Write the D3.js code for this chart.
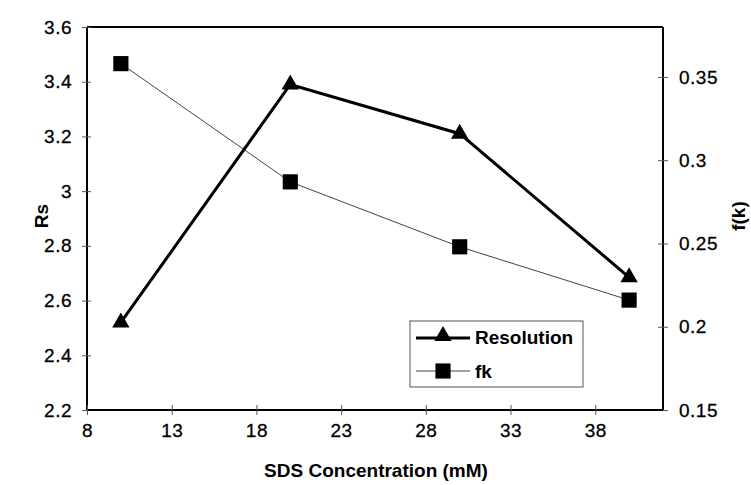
<!DOCTYPE html>
<html>
<head>
<meta charset="utf-8">
<script src="https://cdn.jsdelivr.net/npm/d3@7"></script>
<style>
  body { margin: 0; background: #fff; }
  text { font-family: "Liberation Sans", Arial, sans-serif; fill: #000; }
</style>
</head>
<body>
<svg id="chart"></svg>
<script>
// values
var sds = [10, 20, 30, 40];
var resolution = [2.52, 3.39, 3.21, 2.685];
var fk = [0.358, 0.287, 0.248, 0.216];
var xTicks = [8, 13, 18, 23, 28, 33, 38];
var rsTicks = [2.2, 2.4, 2.6, 2.8, 3, 3.2, 3.4, 3.6];
var fkTicks = [0.15, 0.2, 0.25, 0.3, 0.35];

var width = 751, height = 485;
var plotL = 87, plotR = 663, plotT = 27, plotB = 410;

var svg = d3.select("#chart")
    .attr("width", width)
    .attr("height", height);

var x = d3.scaleLinear().domain([8, 42]).range([plotL, plotR]);
var yRs = d3.scaleLinear().domain([2.2, 3.6]).range([plotB, plotT]);
var yFk = d3.scaleLinear().domain([0.15, 0.38]).range([plotB, plotT]);

// frame: top line
svg.append("line")
    .attr("x1", plotL).attr("x2", plotR)
    .attr("y1", plotT).attr("y2", plotT)
    .attr("stroke", "#000").attr("stroke-width", 2);

// left axis
var gl = svg.append("g").attr("transform", "translate(" + plotL + ",0)")
    .call(d3.axisLeft(yRs).tickValues(rsTicks).tickSize(5).tickSizeOuter(0)
        .tickFormat(function (d) { return +d.toFixed(1); }));
gl.selectAll(".tick line").clone().attr("x2", 4);

// right axis
var gr = svg.append("g").attr("transform", "translate(" + plotR + ",0)")
    .call(d3.axisRight(yFk).tickValues(fkTicks).tickSize(5).tickSizeOuter(0)
        .tickFormat(function (d) { return +d.toFixed(2); }));
gr.selectAll(".tick line").clone().attr("x2", -5);

// bottom axis
var gb = svg.append("g").attr("transform", "translate(0," + plotB + ")")
    .call(d3.axisBottom(x).tickValues(xTicks).tickSize(5).tickSizeOuter(0));
gb.selectAll(".tick line").clone().attr("y2", -5);

[gl, gr, gb].forEach(function (g) {
    g.select(".domain").attr("stroke", "#000").attr("stroke-width", 2);
    g.selectAll(".tick line").attr("stroke", "#555").attr("stroke-width", 1);
    g.selectAll(".tick text")
        .style("font-family", "'Liberation Sans', Arial, sans-serif")
        .style("font-size", "19px")
        .style("letter-spacing", "0.5px")
        .attr("stroke", "#000").attr("stroke-width", 0.3)
        .attr("fill", "#000");
});
gb.select(".domain").attr("d", "M" + plotL + ",0H" + plotR);
gl.select(".domain").attr("d", "M0," + plotT + "V" + plotB);
gr.select(".domain").attr("d", "M0," + plotT + "V" + plotB);
gl.selectAll(".tick text").attr("x", -15);
gr.selectAll(".tick text").attr("x", 16);
gb.selectAll(".tick text").attr("y", 14);

// axis titles
svg.append("text")
    .attr("transform", "translate(48,216) rotate(-90)")
    .attr("text-anchor", "middle")
    .style("font-size", "19px").style("font-weight", "bold")
    .text("Rs");
svg.append("text")
    .attr("transform", "translate(745,216) rotate(-90)")
    .attr("text-anchor", "middle")
    .style("font-size", "19px").style("font-weight", "bold")
    .text("f(k)");
svg.append("text")
    .attr("x", 376).attr("y", 477)
    .attr("text-anchor", "middle")
    .style("font-size", "19px").style("font-weight", "bold")
    .text("SDS Concentration (mM)");

var tri = d3.symbol().type(d3.symbolTriangle).size(130);
var sq = d3.symbol().type(d3.symbolSquare).size(230);

// fk series (right axis)
var fkLine = d3.line()
    .x(function (d, i) { return x(sds[i]); })
    .y(function (d) { return yFk(d); });
svg.append("path")
    .datum(fk)
    .attr("d", fkLine)
    .attr("fill", "none").attr("stroke", "#444").attr("stroke-width", 1);
svg.selectAll(".fk").data(fk).enter().append("path")
    .attr("class", "fk")
    .attr("d", sq)
    .attr("transform", function (d, i) { return "translate(" + x(sds[i]) + "," + yFk(d) + ")"; })
    .attr("fill", "#000");

// resolution series (left axis)
var rsLine = d3.line()
    .x(function (d, i) { return x(sds[i]); })
    .y(function (d) { return yRs(d); });
svg.append("path")
    .datum(resolution)
    .attr("d", rsLine)
    .attr("fill", "none").attr("stroke", "#000").attr("stroke-width", 3);
svg.selectAll(".rs").data(resolution).enter().append("path")
    .attr("class", "rs")
    .attr("d", tri)
    .attr("transform", function (d, i) { return "translate(" + x(sds[i]) + "," + yRs(d) + ")"; })
    .attr("fill", "#000");

// legend
var lg = svg.append("g");
lg.append("rect")
    .attr("x", 410).attr("y", 321).attr("width", 173).attr("height", 66)
    .attr("fill", "#fff").attr("stroke", "#555").attr("stroke-width", 1);
lg.append("line").attr("x1", 416).attr("x2", 470).attr("y1", 338).attr("y2", 338)
    .attr("stroke", "#000").attr("stroke-width", 3);
lg.append("path").attr("d", tri).attr("transform", "translate(443,336)").attr("fill", "#000");
lg.append("text").attr("x", 475).attr("y", 344)
    .style("font-size", "19px").style("font-weight", "bold").text("Resolution");
lg.append("line").attr("x1", 416).attr("x2", 470).attr("y1", 371).attr("y2", 371)
    .attr("stroke", "#444").attr("stroke-width", 1);
lg.append("path").attr("d", sq).attr("transform", "translate(443,371)").attr("fill", "#000");
lg.append("text").attr("x", 475).attr("y", 378)
    .style("font-size", "19px").style("font-weight", "bold").text("fk");
</script>
</body>
</html>
